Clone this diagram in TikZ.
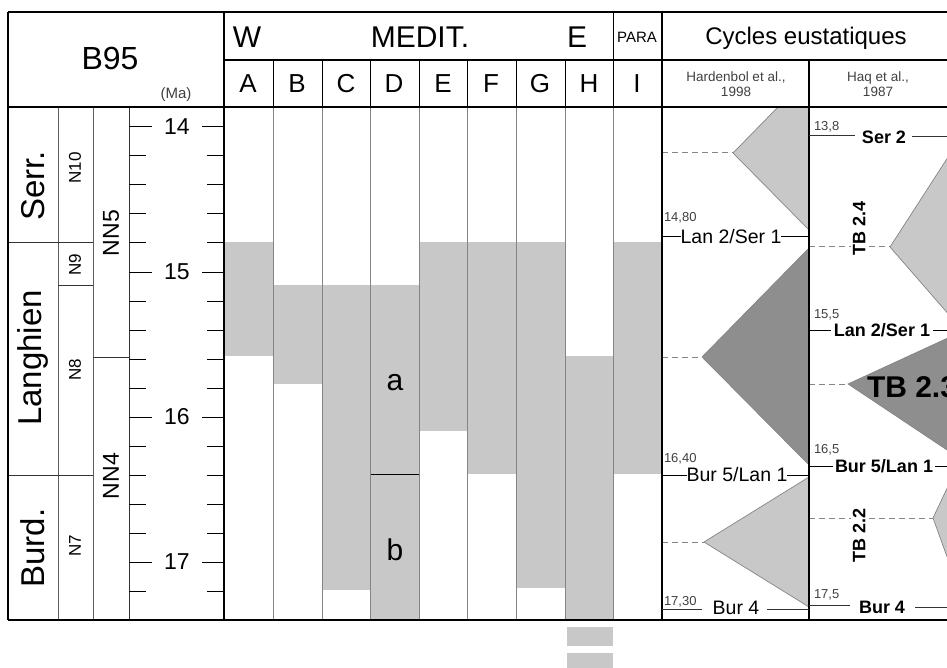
\documentclass[tikz,border=0pt]{standalone}
\usepackage{fontspec}
\setmainfont{Liberation Sans}
\newcommand\myfs[1]{\fontsize{#1}{#1}\selectfont}
\definecolor{lgray}{HTML}{C8C8C8}
\definecolor{dgray}{HTML}{8E8E8E}
\definecolor{sepgray}{HTML}{858585}
\definecolor{txtgray}{HTML}{404040}
\begin{document}
\begin{tikzpicture}[x=1pt,y=-1pt,
  every node/.style={inner sep=0pt,outer sep=0pt},
  frame/.style={line width=1.3pt,black},
  thinframe/.style={line width=0.8pt,black},
  sep/.style={line width=1pt,sepgray},
  tri/.style={draw=sepgray,line width=0.7pt},
  dashline/.style={sepgray,line width=1pt,dash pattern=on 6pt off 4pt},
  lab/.style={font=\myfs{19.5}},
  blab/.style={font=\bfseries\myfs{18}},
  small/.style={font=\myfs{13},text=txtgray},
  boundline/.style={line width=1pt,black}]
\useasboundingbox (0,0) rectangle (947,668);
\clip (0,0) rectangle (947,668);
% gray bars
\fill[lgray] (224,242) rectangle (273,356);
\fill[lgray] (273,285) rectangle (322,384);
\fill[lgray] (322,285) rectangle (370,590);
\fill[lgray] (370,285) rectangle (419,620);
\fill[lgray] (419,242) rectangle (467,431);
\fill[lgray] (467,242) rectangle (516,474);
\fill[lgray] (516,242) rectangle (565,588);
\fill[lgray] (565,356) rectangle (613,620);
\fill[lgray] (613,242) rectangle (662,474);
\fill[lgray] (567,627) rectangle (613,646);
\fill[lgray] (567,653) rectangle (613,672);
\draw[line width=1pt] (370,474) -- (419,474);
% column separators
\foreach \x in {273,322,370,419,467,516,565,613}{
  \draw[sep] (\x,107) -- (\x,620);
  \draw[thinframe] (\x,60) -- (\x,107);
}
\draw[thinframe] (613,12) -- (613,60);
% triangles Hardenbol
\filldraw[fill=lgray,tri] (778,107) -- (733,153) -- (809,230) -- (809,107) -- cycle;
\filldraw[fill=dgray,tri] (809,248) -- (702,357) -- (809,465) -- cycle;
\filldraw[fill=lgray,tri] (809,477) -- (704,542) -- (809,607) -- cycle;
% triangles Haq
\filldraw[fill=lgray,tri] (950,154) -- (890,247) -- (950,316) -- cycle;
\filldraw[fill=dgray,tri] (950,337) -- (848,384) -- (950,452) -- cycle;
\filldraw[fill=lgray,tri] (950,482) -- (933,518) -- (950,565) -- cycle;
% dashed lines
\draw[dashline] (662,153) -- (733,153);
\draw[dashline] (662,357) -- (702,357);
\draw[dashline] (662,542) -- (704,542);
\draw[dashline] (809,247) -- (890,247);
\draw[dashline] (809,384) -- (848,384);
\draw[dashline] (809,518) -- (933,518);
% left block lines
\draw[line width=0.8pt,sepgray!70!black] (58,107) -- (58,620);
\draw[line width=0.8pt,sepgray!70!black] (93,107) -- (93,620);
\draw[line width=1pt,black!80] (129,107) -- (129,620);
\draw[line width=0.8pt,black!80] (8,242) -- (93,242);
\draw[line width=0.8pt,black!80] (58,285) -- (93,285);
\draw[line width=0.8pt,black!80] (93,357) -- (129,357);
\draw[line width=0.8pt,black!80] (8,475) -- (93,475);
% time scale
\foreach \i in {0,...,16}{
  \pgfmathsetmacro\yy{127+29*\i}
  \pgfmathtruncatemacro\mm{mod(\i,5)}
  \ifnum\mm=0
    \draw[line width=1pt] (129,\yy) -- (152,\yy);
    \draw[line width=1pt] (202,\yy) -- (224,\yy);
  \else
    \draw[line width=1pt] (129,\yy) -- (146,\yy);
    \draw[line width=1pt] (207,\yy) -- (224,\yy);
  \fi
}
\node[font=\myfs{23}] (t14) at (177,127) {14};
\node[font=\myfs{23}] (t15) at (177,272) {15};
\node[font=\myfs{23}] (t16) at (177,417) {16};
\node[font=\myfs{23}] (t17) at (177,562) {17};
% frame
\draw[frame] (8,12) -- (947,12);
\draw[frame] (224,60) -- (947,60);
\draw[line width=1.6pt] (8,107) -- (947,107);
\draw[frame] (8,620) -- (947,620);
\draw[frame] (8,12) -- (8,620);
\draw[frame] (224,12) -- (224,620);
\draw[frame] (662,12) -- (662,620);
\draw[frame] (809,60) -- (809,620);
% header texts
\node[font=\myfs{32}] (b95) at (110,58) {B95};
\node[font=\myfs{15},text=txtgray] (ma) at (176,95) {(Ma)};
\node[font=\myfs{30}] (w) at (247,37) {W};
\node[font=\myfs{30}] (medit) at (420,37) {MEDIT.};
\node[font=\myfs{30}] (e) at (577,37) {E};
\node[font=\myfs{15}] (para) at (637,37) {PARA};
\node[font=\myfs{24}] (cycles) at (806,38) {Cycles eustatiques};
\node[font=\myfs{13.5},text=txtgray,align=center] (hard) at (736,84) {Hardenbol et al.,\\[1pt]1998};
\node[font=\myfs{13.5},text=txtgray,align=center] (haq) at (878,84) {Haq et al.,\\[1pt]1987};
\foreach \l/\x in {A/248,B/297,C/346,D/394,E/443,F/491,G/540,H/589,I/637}{
  \node[font=\myfs{26}] (col\l) at (\x,84) {\l};
}
% left block texts
\node[font=\myfs{33},rotate=90] (serr) at (33,186) {Serr.};
\node[font=\myfs{33},rotate=90] (lang) at (33,358) {Langhien};
\node[font=\myfs{33},rotate=90] (burd) at (33,548) {Burd.};
\node[font=\myfs{17},rotate=90] (n10) at (75,168) {N10};
\node[font=\myfs{17},rotate=90] (n9) at (75,265) {N9};
\node[font=\myfs{17},rotate=90] (n8) at (75,370) {N8};
\node[font=\myfs{17},rotate=90] (n7) at (75,546) {N7};
\node[font=\myfs{23},rotate=90] (nn5) at (111,233) {NN5};
\node[font=\myfs{23},rotate=90] (nn4) at (111,476) {NN4};
\node[font=\myfs{30}] (la) at (395,383) {a};
\node[font=\myfs{30}] (lb) at (395,550) {b};
% Hardenbol labels
\node[small,anchor=west] (h1480) at (664,218) {14,80};
\node[lab] (hls) at (731,237) {Lan 2/Ser 1};
\draw[boundline] (662,237) -- (hls.west);
\draw[boundline] (hls.east) -- (809,237);
\node[small,anchor=west] (h1640) at (664,459) {16,40};
\node[lab] (hbl) at (737,475) {Bur 5/Lan 1};
\draw[boundline] (662,475) -- (hbl.west);
\draw[boundline] (hbl.east) -- (809,475);
\node[small,anchor=west] (h1730) at (664,602) {17,30};
\draw[line width=0.8pt,black!80] (662,609) -- (702,609);
\node[lab] (hb4) at (736,608) {Bur 4};
\draw[line width=0.8pt,black!80] (767,609) -- (809,609);
% Haq labels
\node[small,anchor=west] (q138) at (814,127) {13,8};
\draw[line width=0.8pt,black!80] (809,135) -- (855,135);
\node[blab] (qs2) at (884,137) {Ser 2};
\draw[line width=0.8pt,black!80] (912,136) -- (947,136);
\node[blab,rotate=90,fill=white,inner sep=2pt] (tb24) at (859,228) {TB 2.4};
\node[small,anchor=west] (q155) at (814,315) {15,5};
\node[blab] (qls) at (882,330) {Lan 2/Ser 1};
\draw[boundline] (809,330) -- ([xshift=-3pt]qls.west);
\draw[boundline] ([xshift=3pt]qls.east) -- (947,330);
\node[font=\bfseries\myfs{30},anchor=west] (tb23) at (867,387) {TB 2.3};
\node[small,anchor=west] (q165) at (814,450) {16,5};
\node[blab] (qbl) at (884,466) {Bur 5/Lan 1};
\draw[boundline] (809,466) -- ([xshift=-2pt]qbl.west);
\draw[boundline] ([xshift=2pt]qbl.east) -- (947,466);
\node[blab,rotate=90,fill=white,inner sep=2pt] (tb22) at (859,535) {TB 2.2};
\node[small,anchor=west] (q175) at (814,595) {17,5};
\draw[line width=0.8pt,black!80] (809,605) -- (850,605);
\node[blab] (qb4) at (882,607) {Bur 4};
\draw[line width=0.8pt,black!80] (915,607) -- (947,607);
\end{tikzpicture}
\end{document}
